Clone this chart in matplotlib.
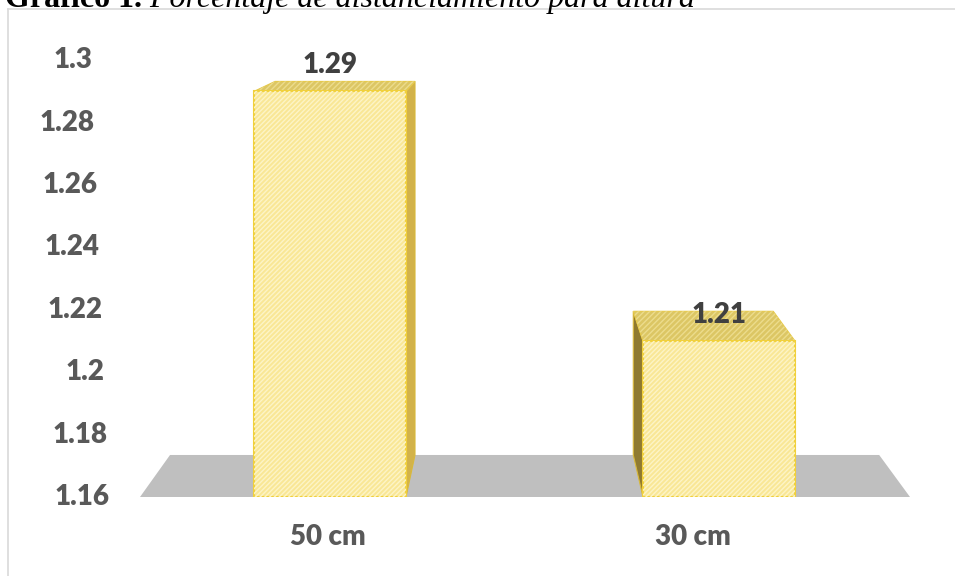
import matplotlib
matplotlib.use("Agg")
import matplotlib.pyplot as plt
from matplotlib.patches import Polygon
import numpy as np

# Chart data
categories = ["50 cm", "30 cm"]
values = [1.29, 1.21]
y_ticks = [1.16, 1.18, 1.2, 1.22, 1.24, 1.26, 1.28, 1.3]
y_tick_labels = ["1.16", "1.18", "1.2", "1.22", "1.24", "1.26", "1.28", "1.3"]
title_bold = "Gráfico 1."
title_italic = " Porcentaje de distanciamiento para altura"

W, H = 955, 576
DPI = 100
fig = plt.figure(figsize=(W / DPI, H / DPI), dpi=DPI)
fig.patch.set_facecolor("white")

# plot area in pixel units (left, top, right, bottom)
px_l, px_t, px_r, px_b = 140, 40, 910, 497
ax = fig.add_axes([px_l / W, (H - px_b) / H, (px_r - px_l) / W, (px_b - px_t) / H])

ppx = 389.0           # pixels per category step
ppy = 62.4 / 0.02     # pixels per value unit
base = 1.16
x0 = -(330 - px_l) / ppx
x1 = x0 + (px_r - px_l) / ppx
y_top = base + (px_b - px_t) / ppy
ax.set_xlim(x0, x1)
ax.set_ylim(base, y_top)
ax.axis("off")

# one-point perspective: vanishing point and depth ratio
vx = (520 - 330) / ppx
vy = base + (px_b + 35) / ppy
k = 0.079


def back(pt):
    return (pt[0] + (vx - pt[0]) * k, pt[1] + (vy - pt[1]) * k)


# floor
fl = [(x0, base), (x1, base)]
floor = Polygon([fl[0], fl[1], back(fl[1]), back(fl[0])], closed=True,
                facecolor="#bfbfbf", edgecolor="none", zorder=1)
ax.add_patch(floor)

xs = np.arange(len(categories))
width = 152 / ppx

front_col = "#f9e796"
stripe_col = "#fdf4c6"
edge_col = "#f0d03c"
top_col = "#dcc664"
side_col_r = "#d2b24a"
side_col_l = "#8f7a30"

for x, v in zip(xs, values):
    l, r = x - width / 2, x + width / 2
    fl_, fr_ = (l, v), (r, v)
    bl_, br_ = (l, base), (r, base)
    # side face
    if r < vx:
        side = [fr_, br_, back(br_), back(fr_)]
        sc = side_col_r
    else:
        side = [fl_, bl_, back(bl_), back(fl_)]
        sc = side_col_l
    ax.add_patch(Polygon(side, closed=True, facecolor=sc, edgecolor="#d9b93a",
                         linewidth=0.8, zorder=2))
    # top face
    top = [fl_, fr_, back(fr_), back(fl_)]
    ax.add_patch(Polygon(top, closed=True, facecolor=top_col, edgecolor="#e6c94a",
                         linewidth=0.8, zorder=2))
    ax.add_patch(Polygon(top, closed=True, facecolor="none", edgecolor="#ecdc8c",
                         linewidth=0, hatch="//////", zorder=2.1))

# front faces drawn from the data
ax.bar(xs, [v - base for v in values], bottom=base, width=width,
       color=front_col, edgecolor=edge_col, linewidth=1.5, zorder=3)
ax.bar(xs, [v - base for v in values], bottom=base, width=width,
       color="none", edgecolor=stripe_col, linewidth=0, hatch="///////", zorder=3.1)

label_font = dict(fontsize=20, fontweight="heavy", family="Lato")

# value labels
for x, v in zip(xs, values):
    ax.annotate(f"{v:.2f}", (x, v), xytext=(0, 19), textcoords="offset points",
                ha="center", va="center", color="#404040", zorder=5, **label_font)

# category labels
cat_shift = [-2, -26]
for x, lab, s in zip(xs, categories, cat_shift):
    ax.annotate(lab, (x, base), xytext=(s / 1.389, -40 / 1.389),
                textcoords="offset points", ha="center", va="center",
                color="#595959", **label_font)

# y tick labels along the slanted wall edge
for t, lab in zip(y_ticks, y_tick_labels):
    right_px = 110 - (t - base) / 0.14 * 18
    ax.annotate(lab, (x0, t), xytext=(-(px_l - right_px) / 1.389, 0),
                textcoords="offset points", ha="right", va="center",
                color="#595959", annotation_clip=False, **label_font)

# outer frame lines
fig.add_artist(plt.Line2D([8 / W, 8 / W], [0, (H - 9) / H], color="#d9d9d9",
                          linewidth=1.2, transform=fig.transFigure))
fig.add_artist(plt.Line2D([8 / W, 1], [(H - 9) / H, (H - 9) / H], color="#d9d9d9",
                          linewidth=1.2, transform=fig.transFigure))

# heading (partly above the top edge)
t1 = fig.text(5 / W, (H - 7) / H, title_bold, family="Liberation Serif",
              fontweight="bold", fontsize=23, va="baseline", ha="left")
fig.canvas.draw()
bb = t1.get_window_extent()
fig.text(bb.x1 / W, (H - 7) / H, title_italic, family="Liberation Serif",
         style="italic", fontsize=23, va="baseline", ha="left")

fig.savefig("out.png", dpi=DPI)
